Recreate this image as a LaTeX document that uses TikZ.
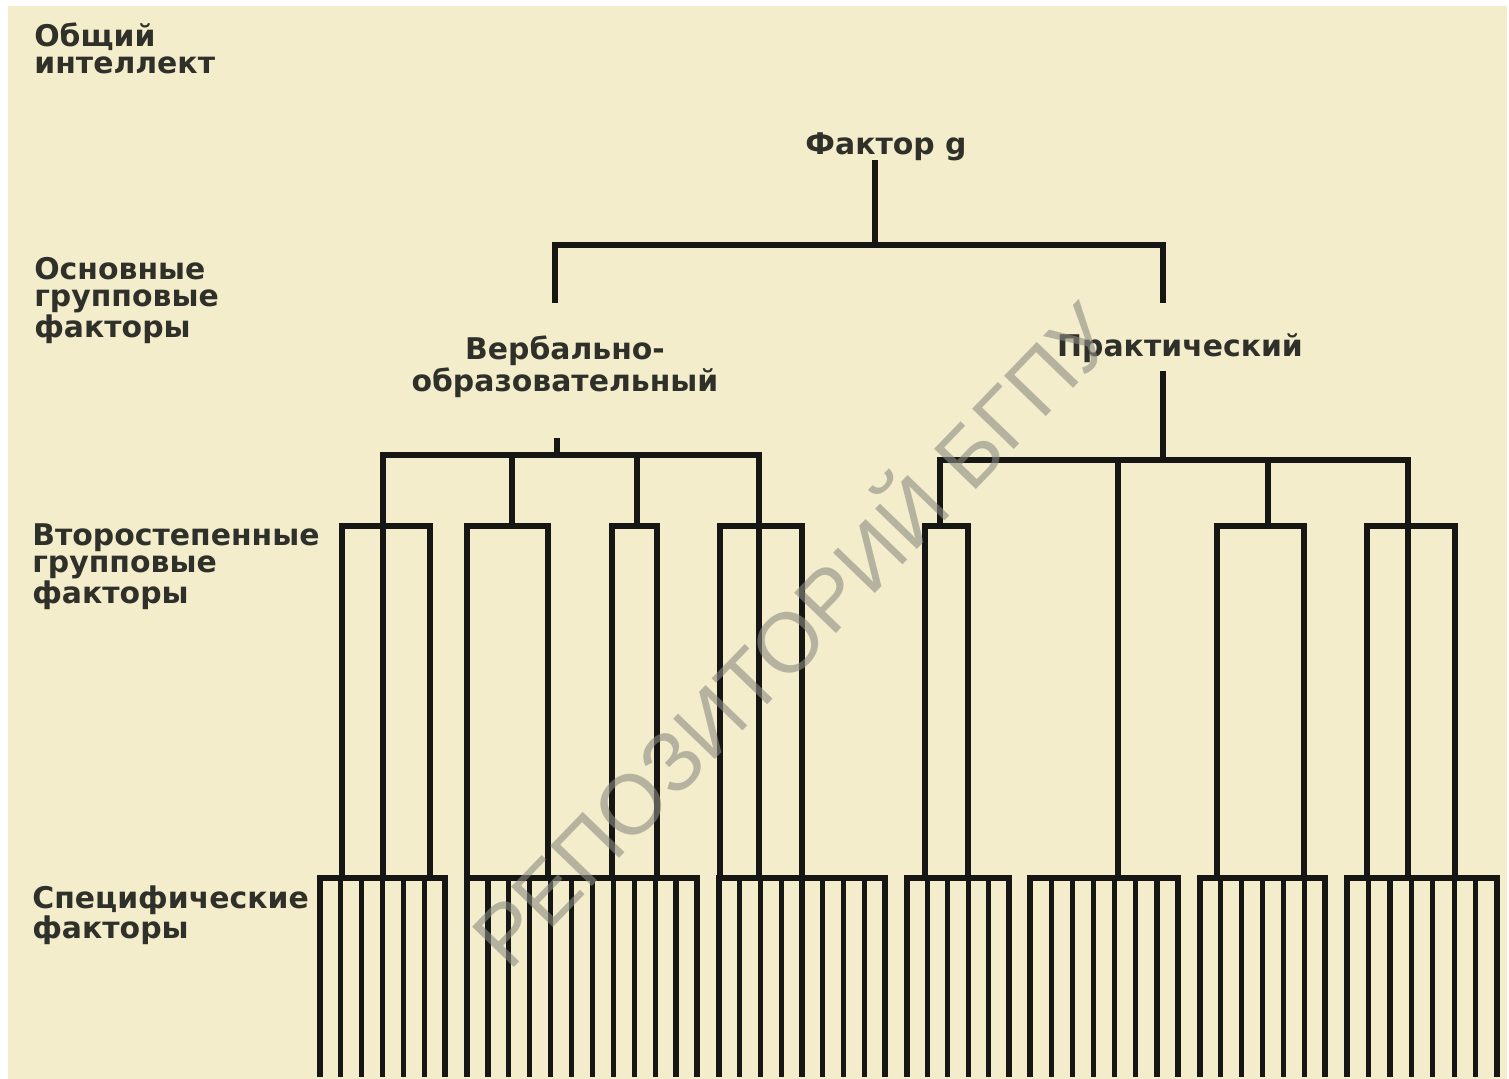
\documentclass[tikz,border=0pt]{standalone}
\usepackage{fontspec}
\setmainfont{DejaVu Sans}
\newfontfamily\wmfont{Liberation Sans}
\usetikzlibrary{positioning}
\definecolor{paper}{RGB}{243,237,203}
\definecolor{ink}{RGB}{22,22,20}
\definecolor{txtgray}{RGB}{48,48,42}
\definecolor{wmgray}{RGB}{140,140,130}

\begin{document}
\begin{tikzpicture}[x=0.02cm, y=-0.02cm,
    link/.style={ink, line width=3pt, line cap=rect},
    lbl/.style={txtgray, font=\fontsize{17}{15.4}\selectfont\bfseries,
      inner sep=0pt, align=left, anchor=north west},
    ttl/.style={txtgray, font=\fontsize{17}{15.4}\selectfont\bfseries,
      inner sep=0pt, align=center},
    wmark/.style={wmgray, opacity=0.6, font=\wmfont\fontsize{48}{50}\selectfont}]
    % --- paper ---
    \fill[white] (0,0) rectangle (1509,1079);
    \fill[paper] (8,6) rectangle (1507,1079);
    \useasboundingbox (0,0) rectangle (1509,1079);
    % --- level labels (left column) ---
    \node[lbl] (lv0) at (34,22) {Общий\\интеллект};
    \node[lbl] (lv1) at (34,257) {Основные\\групповые\\факторы};
    \node[lbl] (lv2) at (32,523) {Второстепенные\\групповые\\факторы};
    \node[lbl] (lv3) at (32,885) {Специфические\\факторы};
    % --- factor g and the two main group factors ---
    \node[ttl] (fg) at (886,147) {Фактор g};
    \node[ttl] (verb) at (565,367) {Вербально-\\образовательный};
    \node[ttl] (prak) at (1180,348) {Практический};
    \coordinate (g-root) at (875,163);
    \coordinate (g-mid) at (875,245);
    \coordinate (g-w) at (555,245);
    \coordinate (g-e) at (1163,245);
    \draw[link] (g-root) -- (g-mid);
    \draw[link] (555,300) -- (g-w) -- (g-e) -- (1163,300);
    % --- verbal branch ---
    \coordinate (v-w) at (383,455);
    \coordinate (v-e) at (759,455);
    \draw[link] (557,441) -- (557,455);
    \draw[link] (v-w) -- (v-e);
    \foreach \xs/\ye in {383/878, 512/526, 637/526, 759/878}
      \draw[link] (\xs,455) -- (\xs,\ye);
    % --- practical branch ---
    \coordinate (p-w) at (940,460);
    \coordinate (p-e) at (1408,460);
    \draw[link] (1163,374) -- (1163,460);
    \draw[link] (p-w) -- (p-e);
    \foreach \xs/\ye in {940/526, 1118/878, 1268/526, 1408/878}
      \draw[link] (\xs,460) -- (\xs,\ye);
    % --- secondary group factors (boxes) ---
    \foreach \l/\r [count=\i] in {342/430, 467/548, 612/657, 720/802,
                                  925/968, 1217/1304, 1367/1455} {
      \coordinate (b\i-nw) at (\l,526);
      \coordinate (b\i-ne) at (\r,526);
      \draw[link] (\l,878) -- (b\i-nw) -- (b\i-ne) -- (\r,878);
    }
    % --- specific factors (combs) ---
    \foreach \l/\r/\n [count=\i] in {320/445/7, 467/697/12, 719/885/9,
        907/1009/6, 1030/1178/8, 1200/1325/7, 1347/1497/8} {
      \coordinate (s\i-w) at (\l,878);
      \coordinate (s\i-e) at (\r,878);
      \draw[link] (s\i-w) -- (s\i-e);
      \foreach \k in {1,...,\n} {
        \pgfmathsetmacro\xx{\l+(\k-1)*(\r-\l)/(\n-1)}
        \draw[link] (\xx,878) -- (\xx,1074);
      }
    }
    % --- watermark ---
    \node[wmark, rotate=46] (wm) at (788,630) {РЕПОЗИТОРИЙ БГПУ};
\end{tikzpicture}
\end{document}
